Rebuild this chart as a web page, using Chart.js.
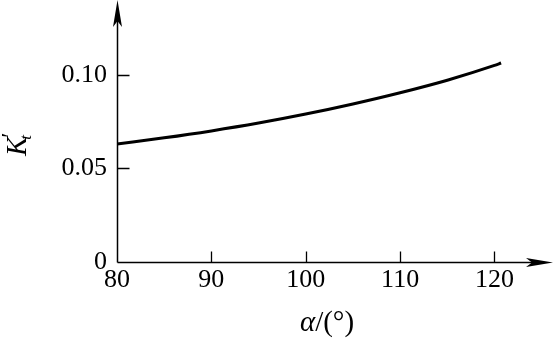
<!DOCTYPE html>
<html>
<head>
<meta charset="utf-8">
<script src="https://cdn.jsdelivr.net/npm/chart.js@4/dist/chart.umd.min.js"></script>
<style>
  html, body { margin: 0; padding: 0; background: #fff; }
  #wrap { width: 554px; height: 339px; }
</style>
</head>
<body>
<div id="wrap"><canvas id="chart" width="554" height="339"></canvas></div>
<script>
// Data
const alpha = [80, 85, 90, 95, 100, 105, 110, 115, 120, 120.7];
const kt = [0.0631, 0.0664, 0.0701, 0.0743, 0.0791, 0.0845, 0.0905, 0.0972, 0.1051, 0.1064];

const xTicks = [80, 90, 100, 110, 120];
const xTickLabels = ['80', '90', '100', '110', '120'];
const yTicks = [0, 0.05, 0.10];
const yTickLabels = ['0', '0.05', '0.10'];

const serif = '"Liberation Serif", "DejaVu Serif", serif';

// Axes with arrows, inward ticks and axis titles
const axesPlugin = {
    id: 'axesPlugin',
    beforeDraw(chart) {
        const ctx = chart.ctx;
        ctx.save();
        ctx.fillStyle = '#fff';
        ctx.fillRect(0, 0, chart.width, chart.height);
        ctx.restore();
    },
    afterDraw(chart) {
        const ctx = chart.ctx;
        const area = chart.chartArea;
        const xs = chart.scales.x;
        const ys = chart.scales.y;
        const x0 = Math.round(area.left) + 0.5;
        const y0 = Math.round(area.bottom) + 0.5;

        ctx.save();
        ctx.strokeStyle = '#000';
        ctx.fillStyle = '#000';
        ctx.lineWidth = 1.5;

        // axis lines
        ctx.beginPath();
        ctx.moveTo(x0, y0);
        ctx.lineTo(x0, area.top + 10);
        ctx.moveTo(x0, y0);
        ctx.lineTo(area.right - 10, y0);
        ctx.stroke();

        // arrow heads
        ctx.beginPath();
        ctx.moveTo(x0, area.top);
        ctx.lineTo(x0 + 4.5, area.top + 27);
        ctx.lineTo(x0, area.top + 21);
        ctx.lineTo(x0 - 4.5, area.top + 27);
        ctx.closePath();
        ctx.fill();

        ctx.beginPath();
        ctx.moveTo(area.right, y0);
        ctx.lineTo(area.right - 27, y0 - 4.5);
        ctx.lineTo(area.right - 21, y0);
        ctx.lineTo(area.right - 27, y0 + 4.5);
        ctx.closePath();
        ctx.fill();

        // inward ticks
        ctx.lineWidth = 1.3;
        ctx.beginPath();
        xTicks.slice(1).forEach(v => {
            const px = Math.round(xs.getPixelForValue(v)) + 0.5;
            ctx.moveTo(px, y0);
            ctx.lineTo(px, y0 - 11);
        });
        yTicks.slice(1).forEach(v => {
            const py = Math.round(ys.getPixelForValue(v)) + 0.5;
            ctx.moveTo(x0, py);
            ctx.lineTo(x0 + 12, py);
        });
        ctx.stroke();

        // x title: alpha/(deg)
        ctx.textBaseline = 'alphabetic';
        ctx.textAlign = 'left';
        ctx.font = 'italic 29px ' + serif;
        const a = 'α';
        const aw = ctx.measureText(a).width;
        ctx.font = '29px ' + serif;
        const rest = '/(°)';
        const rw = ctx.measureText(rest).width;
        let tx = 327 - (aw + rw) / 2;
        ctx.font = 'italic 29px ' + serif;
        ctx.fillText(a, tx, 331);
        ctx.font = '29px ' + serif;
        ctx.fillText(rest, tx + aw, 331);

        // y title: K_t'
        ctx.translate(26, 156);
        ctx.rotate(-Math.PI / 2);
        ctx.font = 'italic 29px ' + serif;
        ctx.fillText('K', 0, 0);
        const kw = ctx.measureText('K').width;
        ctx.font = 'italic 17px ' + serif;
        ctx.fillText('t', kw - 3, 5);
        ctx.font = '24px ' + serif;
        ctx.fillText('′', kw - 1, -9);
        ctx.restore();
    }
};

new Chart(document.getElementById('chart').getContext('2d'), {
    type: 'line',
    data: {
        datasets: [{
            data: alpha.map((a, i) => ({ x: a, y: kt[i] })),
            borderColor: '#000',
            borderWidth: 3,
            pointRadius: 0,
            cubicInterpolationMode: 'monotone',
            fill: false
        }]
    },
    options: {
        responsive: false,
        animation: false,
        layout: { padding: { left: 0, right: 1, top: 0, bottom: 0 } },
        plugins: {
            legend: { display: false },
            tooltip: { enabled: false }
        },
        scales: {
            x: {
                type: 'linear',
                min: 80,
                max: 126.2,
                grid: { display: false, drawTicks: false },
                border: { display: false },
                afterBuildTicks: s => { s.ticks = xTicks.map(v => ({ value: v })); },
                afterFit: s => { s.height = 77; s.paddingLeft = 0; s.paddingRight = 0; },
                ticks: {
                    color: '#000',
                    padding: 3,
                    maxRotation: 0,
                    font: { family: serif, size: 26 },
                    callback: (v, i) => xTickLabels[i]
                }
            },
            y: {
                min: 0,
                max: 0.1401,
                grid: { display: false, drawTicks: false },
                border: { display: false },
                afterBuildTicks: s => { s.ticks = yTicks.map(v => ({ value: v })); },
                afterFit: s => { s.width = 117; s.paddingTop = 0; s.paddingBottom = 0; },
                ticks: {
                    color: '#000',
                    padding: 10,
                    font: { family: serif, size: 26 },
                    callback: (v, i) => yTickLabels[i]
                }
            }
        }
    },
    plugins: [axesPlugin]
});
</script>
</body>
</html>
